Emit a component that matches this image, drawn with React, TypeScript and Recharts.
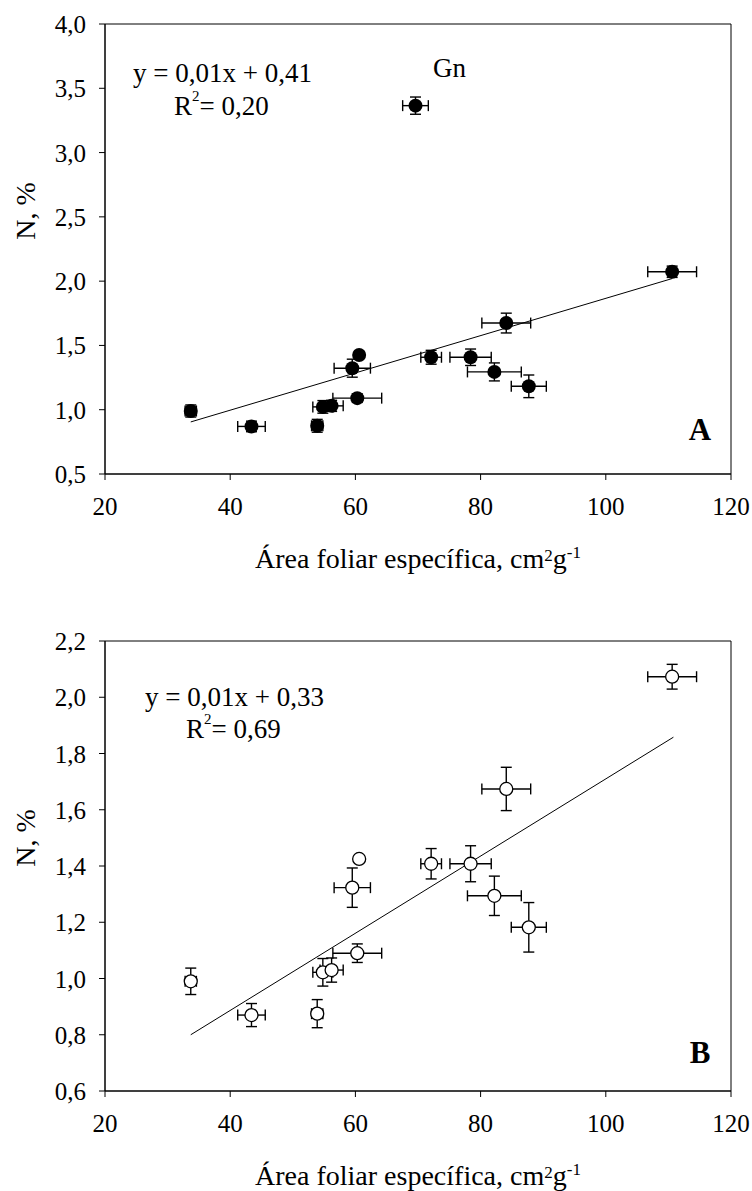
import { ScatterChart, Scatter, XAxis, YAxis, ErrorBar, ReferenceArea, Label } from "recharts";

// one entry per species: specific leaf area (cm2/g) and leaf N (%), with their error bars
const sla = [33.7, 43.4, 53.9, 54.8, 56.2, 60.3, 59.5, 60.6, 69.6, 72.1, 78.4, 82.2, 87.7, 84.1, 110.6];
const slaErr = [0.9, 2.2, 0.9, 1.6, 1.85, 3.9, 2.9, 0, 2.05, 1.65, 3.3, 4.3, 2.8, 3.9, 3.9];
const nitrogen = [0.99, 0.87, 0.875, 1.022, 1.03, 1.09, 1.323, 1.425, 3.365, 1.408, 1.408, 1.294, 1.182, 1.674, 2.073];
const nitrogenErr = [0.047, 0.041, 0.05, 0.049, 0.043, 0.033, 0.07, 0, 0.067, 0.054, 0.064, 0.07, 0.088, 0.077, 0.044];
const species = ["", "", "", "", "", "", "", "", "Gn", "", "", "", "", "", ""];

// regression line end points
const fitAX = [33.7, 110.6];
const fitAY = [0.905, 2.02];
const fitBX = [33.7, 110.8];
const fitBY = [0.8, 1.858];

const xTicks = [20, 40, 60, 80, 100, 120];
const yTicksA = [0.5, 1.0, 1.5, 2.0, 2.5, 3.0, 3.5, 4.0];
const yTicksB = [0.6, 0.8, 1.0, 1.2, 1.4, 1.6, 1.8, 2.0, 2.2];

const serif = "Liberation Serif";
const txt = { fontFamily: serif, fill: "#000" };
const fmt = (v: number) => v.toFixed(1).replace(".", ",");

const points = sla.map((x, i) => ({ x, y: nitrogen[i], ex: slaErr[i], ey: nitrogenErr[i], name: species[i] }));
const pointsB = points.filter((p) => p.name !== "Gn");
const fitA = fitAX.map((x, i) => ({ x, y: fitAY[i] }));
const fitB = fitBX.map((x, i) => ({ x, y: fitBY[i] }));

const Filled = (p: any) => <circle cx={p.cx} cy={p.cy} r={7} fill="#000" />;
const Hollow = (p: any) => <circle cx={p.cx} cy={p.cy} r={6.5} fill="#fff" stroke="#000" strokeWidth={1.3} />;

const XTick = (p: any) => (
  <text x={p.x} y={p.y} dy={18} textAnchor="middle" fontSize={25} style={txt}>
    {p.payload.value}
  </text>
);
const YTick = (p: any) => (
  <text x={p.x} y={p.y} dy={9} textAnchor="end" fontSize={25} style={txt}>
    {fmt(p.payload.value)}
  </text>
);

const XTitle = (p: any) => {
  const vb = p.viewBox || {};
  return (
    <text x={vb.x + vb.width / 2} y={vb.y + 94} textAnchor="middle" fontSize={28} style={txt}>
      Área foliar específica, cm
      <tspan dy={-7} fontSize={17}>2</tspan>
      <tspan dy={7}>g</tspan>
      <tspan dy={-10} fontSize={17}>-1</tspan>
    </text>
  );
};

function Panel(props: any) {
  const { height, marginTop, xAxisHeight, yDomain, yTicks, data, fit, filled, yTitleY, children } = props;
  return (
    <div style={{ position: "relative", width: 752, height, fontFamily: serif }}>
      <ScatterChart width={752} height={height} margin={{ top: marginTop, right: 21, bottom: 0, left: 0 }}>
        <ReferenceArea x1={20} x2={120} y1={yDomain[0]} y2={yDomain[1]} fill="none" stroke="#000" strokeWidth={1} />
        <XAxis
          type="number"
          dataKey="x"
          domain={[20, 120]}
          ticks={xTicks}
          interval={0}
          height={xAxisHeight}
          stroke="#000"
          tickSize={6}
          tickMargin={17}
          tick={XTick}
        >
          <Label content={XTitle} />
        </XAxis>
        <YAxis
          type="number"
          dataKey="y"
          domain={yDomain}
          ticks={yTicks}
          interval={0}
          width={105}
          stroke="#000"
          tickSize={6}
          tickMargin={13}
          tick={YTick}
        >
          <Label
            content={() => (
              <text transform={`translate(35, ${yTitleY}) rotate(-90)`} textAnchor="middle" fontSize={28} style={txt}>
                N, %
              </text>
            )}
          />
        </YAxis>
        <Scatter data={fit} line={{ stroke: "#000", strokeWidth: 1 }} shape={() => <g />} isAnimationActive={false} legendType="none" />
        <Scatter data={data} shape={filled ? Filled : Hollow} isAnimationActive={false}>
          <ErrorBar dataKey="ex" direction="x" width={5.5} stroke="#000" strokeWidth={1.4} />
          <ErrorBar dataKey="ey" direction="y" width={5.5} stroke="#000" strokeWidth={1.4} />
        </Scatter>
      </ScatterChart>
      <svg width={752} height={height} style={{ position: "absolute", left: 0, top: 0, pointerEvents: "none", ...txt }}>
        {children}
      </svg>
    </div>
  );
}

export default function App() {
  return (
    <div style={{ position: "absolute", left: 0, top: 0, width: 752, height: 1191, background: "#fff" }}>
      <Panel height={600} marginTop={24} xAxisHeight={126} yDomain={[0.5, 4.0]} yTicks={yTicksA} data={points} fit={fitA} filled yTitleY={211}>
        <text x={133} y={82} fontSize={27}>y = 0,01x + 0,41</text>
        <text x={174} y={115} fontSize={27}>
          R<tspan dy={-14} fontSize={15}>2</tspan>
          <tspan dy={14}>= 0,20</tspan>
        </text>
        <text x={433} y={77} fontSize={27}>Gn</text>
        <text x={700} y={440} fontSize={31} fontWeight="bold" textAnchor="middle">A</text>
      </Panel>
      <Panel height={591} marginTop={41} xAxisHeight={100} yDomain={[0.6, 2.2]} yTicks={yTicksB} data={pointsB} fit={fitB} filled={false} yTitleY={238}>
        <text x={145} y={106} fontSize={27}>y = 0,01x + 0,33</text>
        <text x={186} y={138} fontSize={27}>
          R<tspan dy={-14} fontSize={15}>2</tspan>
          <tspan dy={14}>= 0,69</tspan>
        </text>
        <text x={700} y={463} fontSize={31} fontWeight="bold" textAnchor="middle">B</text>
      </Panel>
    </div>
  );
}
